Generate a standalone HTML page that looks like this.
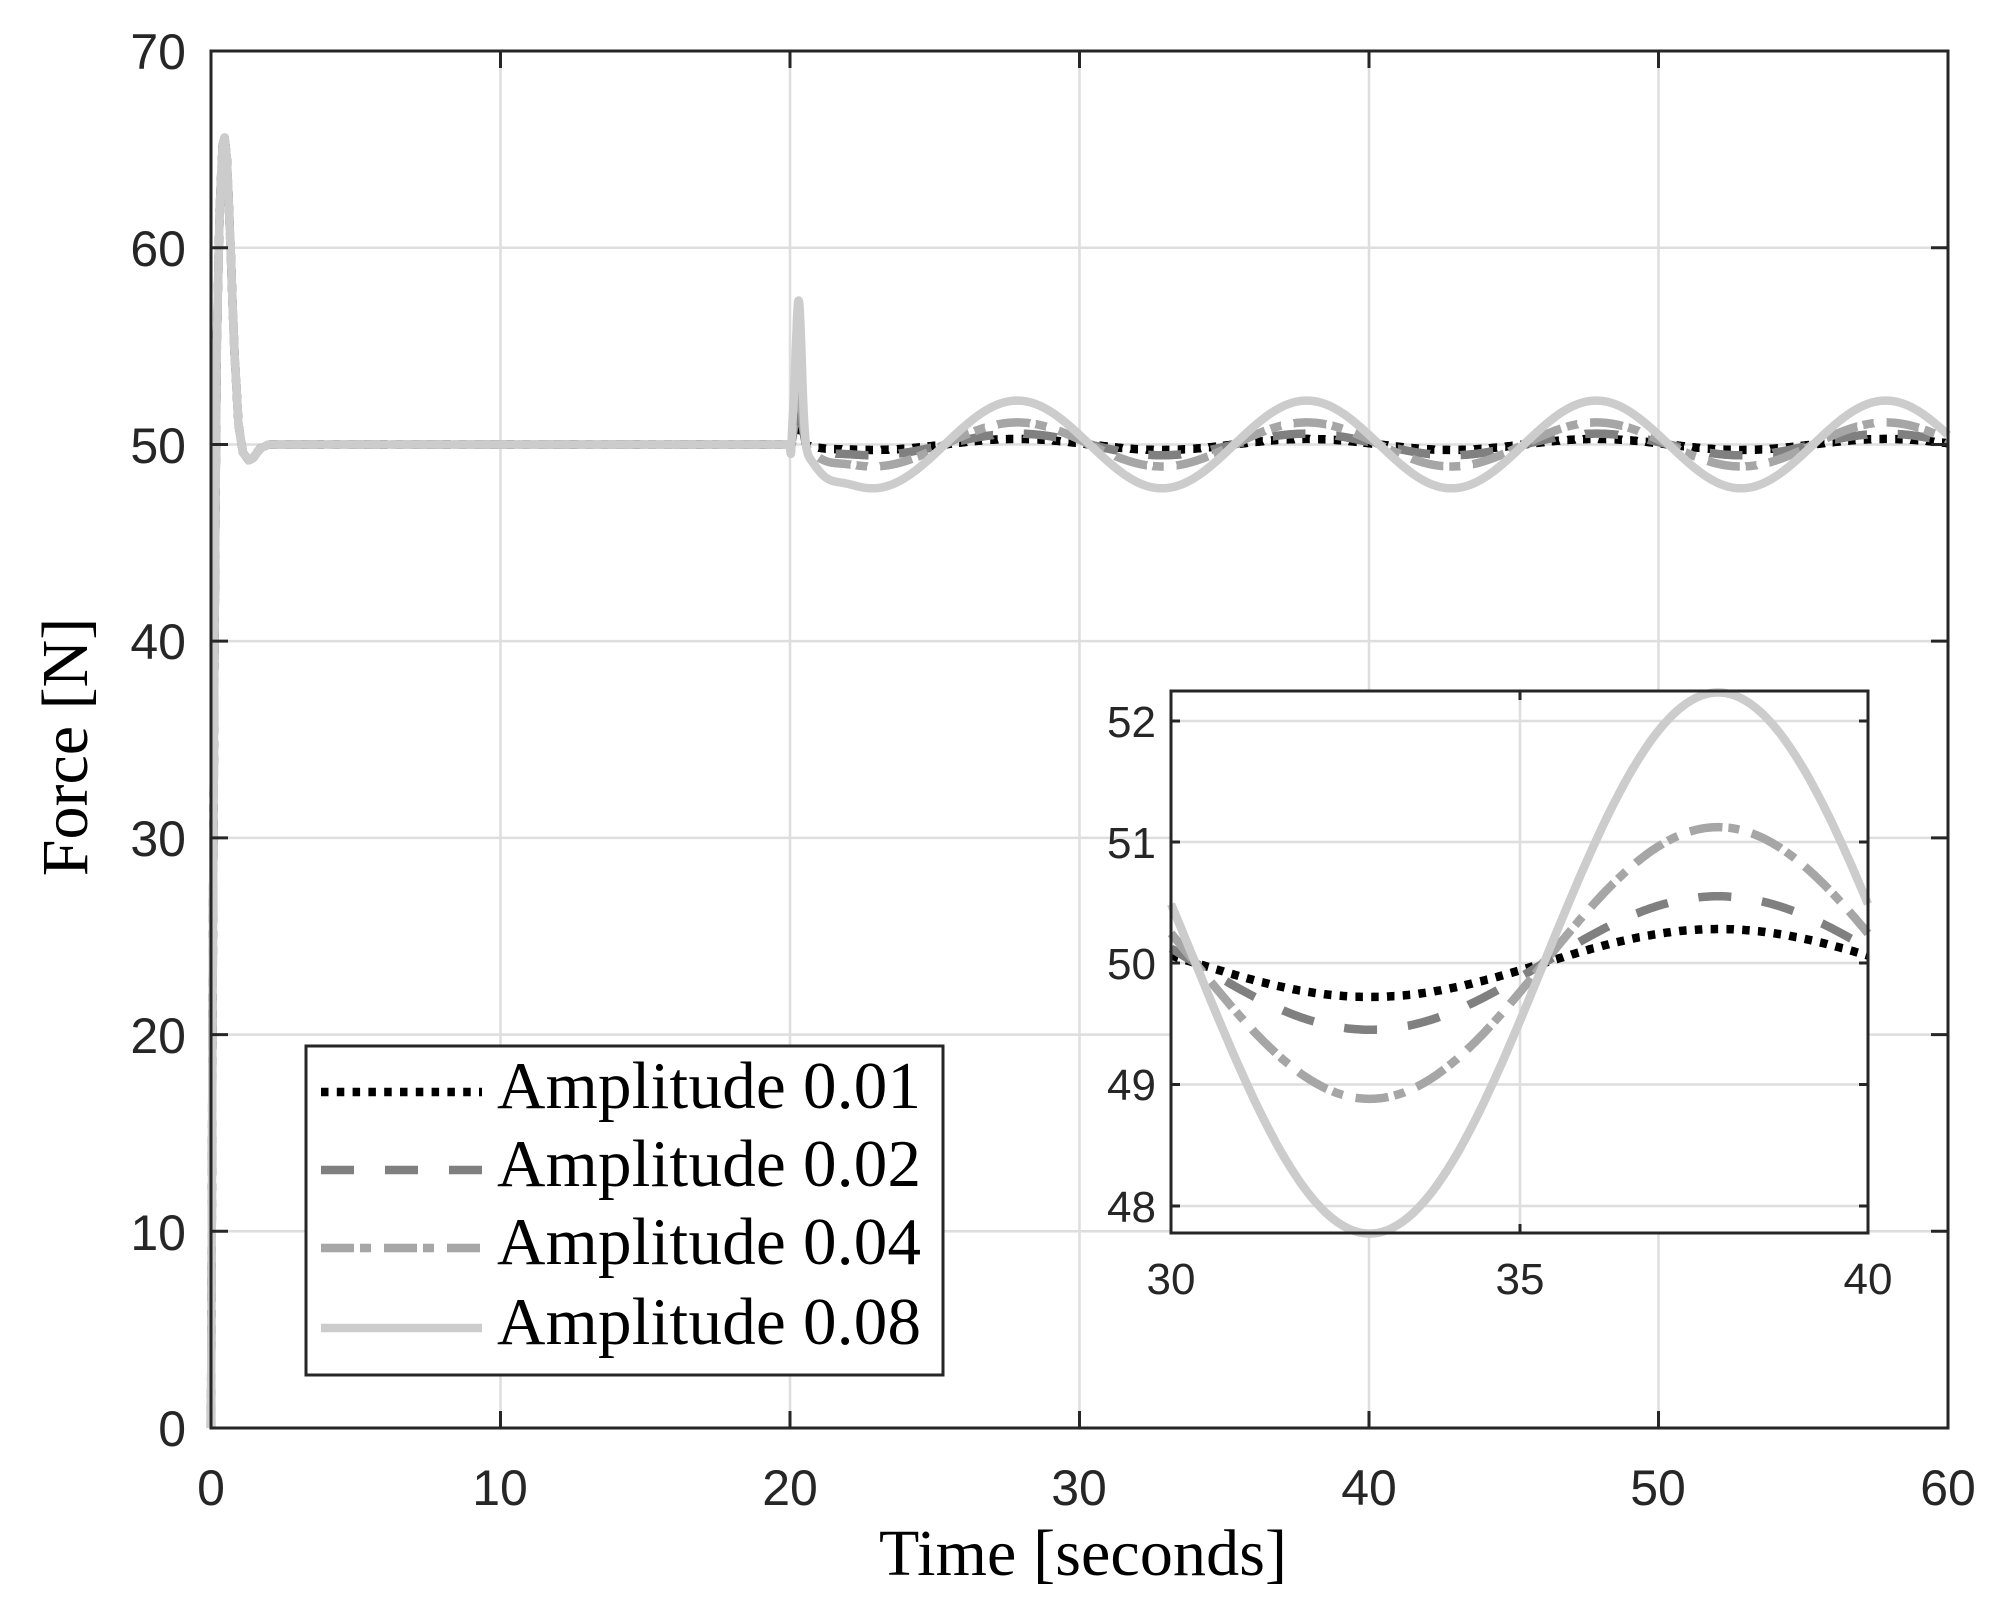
<!DOCTYPE html>
<html><head><meta charset="utf-8"><style>html,body{margin:0;padding:0;background:#fff}svg{display:block}</style></head>
<body>
<svg id="s" width="2008" height="1612" viewBox="0 0 2008 1612" xmlns="http://www.w3.org/2000/svg">
<rect width="2008" height="1612" fill="#fff"/>
<g id="grid" stroke="#dedede" stroke-width="2.5"></g>
<g id="main" fill="none" stroke-linejoin="round"></g>
<g id="axes" stroke="#262626" stroke-width="3" fill="none"></g>
<g font-family="Liberation Sans, sans-serif" font-size="50" fill="#262626">
<text x="186" y="69" text-anchor="end">70</text>
<text x="186" y="266" text-anchor="end">60</text>
<text x="186" y="463" text-anchor="end">50</text>
<text x="186" y="659" text-anchor="end">40</text>
<text x="186" y="856" text-anchor="end">30</text>
<text x="186" y="1053" text-anchor="end">20</text>
<text x="186" y="1250" text-anchor="end">10</text>
<text x="186" y="1446" text-anchor="end">0</text>
<text x="211" y="1505" text-anchor="middle">0</text>
<text x="500" y="1505" text-anchor="middle">10</text>
<text x="790" y="1505" text-anchor="middle">20</text>
<text x="1079" y="1505" text-anchor="middle">30</text>
<text x="1369" y="1505" text-anchor="middle">40</text>
<text x="1658" y="1505" text-anchor="middle">50</text>
<text x="1948" y="1505" text-anchor="middle">60</text>
</g>
<text x="1083" y="1575" text-anchor="middle" font-family="Liberation Serif, serif" font-size="66" textLength="408" fill="#000">Time [seconds]</text>
<text x="87" y="747" text-anchor="middle" font-family="Liberation Serif, serif" font-size="66" fill="#000" transform="rotate(-90 87 747)">Force [N]</text>
<!-- legend -->
<rect x="306" y="1046" width="637" height="329" fill="#fff" stroke="#262626" stroke-width="3"/>
<g fill="none">
<line x1="321" y1="1092" x2="482" y2="1092" stroke="#000" stroke-width="8.5" stroke-dasharray="7.5 8.3"/>
<line x1="321" y1="1170" x2="482" y2="1170" stroke="#808080" stroke-width="8.5" stroke-dasharray="33 31"/>
<line x1="321" y1="1248" x2="482" y2="1248" stroke="#a6a6a6" stroke-width="8.5" stroke-dasharray="33 6 11 13"/>
<line x1="321" y1="1328" x2="482" y2="1328" stroke="#cccccc" stroke-width="8.5"/>
</g>
<g font-family="Liberation Serif, serif" font-size="67" fill="#000">
<text x="497" y="1108" textLength="424">Amplitude 0.01</text>
<text x="497" y="1186" textLength="424">Amplitude 0.02</text>
<text x="497" y="1264" textLength="424">Amplitude 0.04</text>
<text x="497" y="1344" textLength="424">Amplitude 0.08</text>
</g>
<!-- inset -->
<rect x="1171" y="691" width="697" height="542" fill="#fff"/>
<g id="igrid" stroke="#dedede" stroke-width="2.5"></g>
<g id="inset" fill="none" stroke-linejoin="round"></g>
<g id="iaxes" stroke="#262626" stroke-width="3" fill="none"></g>
<g font-family="Liberation Sans, sans-serif" font-size="44" fill="#262626">
<text x="1156" y="737" text-anchor="end">52</text>
<text x="1156" y="858" text-anchor="end">51</text>
<text x="1156" y="979" text-anchor="end">50</text>
<text x="1156" y="1100" text-anchor="end">49</text>
<text x="1156" y="1222" text-anchor="end">48</text>
<text x="1171" y="1294" text-anchor="middle">30</text>
<text x="1520" y="1294" text-anchor="middle">35</text>
<text x="1868" y="1294" text-anchor="middle">40</text>
</g>
</svg>
<script>
(function(){
var NS="http://www.w3.org/2000/svg";
function el(p,n,a){var e=document.createElementNS(NS,n);for(var k in a)e.setAttribute(k,a[k]);document.getElementById(p).appendChild(e);return e;}
var X=function(t){return 211+t*28.95;}, Y=function(F){return 1428-F*19.671;};
var L=211,R=1948,T=51,B=1428;
for(var i=1;i<6;i++){el("grid","line",{x1:X(i*10),y1:T,x2:X(i*10),y2:B});}
for(var i=1;i<7;i++){el("grid","line",{x1:L,y1:Y(i*10),x2:R,y2:Y(i*10)});}
el("axes","rect",{x:L,y:T,width:R-L,height:B-T});
for(var i=0;i<=6;i++){var x=X(i*10);el("axes","line",{x1:x,y1:B,x2:x,y2:B-17});el("axes","line",{x1:x,y1:T,x2:x,y2:T+17});}
for(var i=0;i<=7;i++){var y=Y(i*10);el("axes","line",{x1:L,y1:y,x2:L+17,y2:y});el("axes","line",{x1:R,y1:y,x2:R-17,y2:y});}
var sp=[[0,0],[0.05,20],[0.12,40],[0.2,55],[0.3,62],[0.4,65.2],[0.47,65.6],[0.55,64.5],[0.65,61],[0.8,55],[0.95,51],[1.1,49.6],[1.3,49.2],[1.45,49.3],[1.7,49.8],[2.0,50],[20,50]];
function start(t){for(var i=1;i<sp.length;i++){if(t<=sp[i][0]){var a=sp[i-1],b=sp[i];return a[1]+(b[1]-a[1])*(t-a[0])/(b[0]-a[0]);}}return 50;}
var W=2*Math.PI/10;
function post(t,a,s){var F=50+a*Math.sin(W*(t-35.35));
 F+=s*Math.exp(-Math.pow((t-20.3)/0.15,2));
 F-=1.2*(s/7.3)*Math.exp(-Math.pow((t-20.03)/0.04,2));
 F-=0.5*(a/2.22)*Math.exp(-Math.pow((t-21.2)/0.6,2));
 return F;}
var ser=[{a:0.28,s:1.5,c:"#000",d:"7.5 8.3"},{a:0.55,s:2.5,c:"#808080",d:"33 31"},{a:1.12,s:3.5,c:"#a6a6a6",d:"33 6 11 13"},{a:2.23,s:7.3,c:"#cccccc",d:""}];
ser.forEach(function(S){
 var d="";
 for(var k=0;k<=6000;k++){var t=k*0.01;var F=t<20?start(t):post(t,S.a,S.s);d+=(k?"L":"M")+X(t).toFixed(1)+" "+Y(F).toFixed(1);}
 var a={d:d,stroke:S.c,"stroke-width":8.5};if(S.d)a["stroke-dasharray"]=S.d;el("main","path",a);
 var di="";
 for(var k=0;k<=500;k++){var t=30+k*0.02;var F=50+S.a*Math.sin(W*(t-35.35));di+=(k?"L":"M")+(1171+(t-30)*69.7).toFixed(1)+" "+(963-(F-50)*121.3).toFixed(1);}
 var b={d:di,stroke:S.c,"stroke-width":8.5};if(S.d)b["stroke-dasharray"]=S.d;el("inset","path",b);
});
var iL=1171,iR=1868,iT=691,iB=1233;
el("igrid","line",{x1:1520,y1:iT,x2:1520,y2:iB});
[721,842,963,1084.5,1206].forEach(function(y){el("igrid","line",{x1:iL,y1:y,x2:iR,y2:y});el("iaxes","line",{x1:iL,y1:y,x2:iL+9,y2:y});el("iaxes","line",{x1:iR,y1:y,x2:iR-9,y2:y});});
[1171,1520,1868].forEach(function(x){el("iaxes","line",{x1:x,y1:iB,x2:x,y2:iB-9});el("iaxes","line",{x1:x,y1:iT,x2:x,y2:iT+9});});
el("iaxes","rect",{x:iL,y:iT,width:iR-iL,height:iB-iT});
})();
</script>
</body></html>
